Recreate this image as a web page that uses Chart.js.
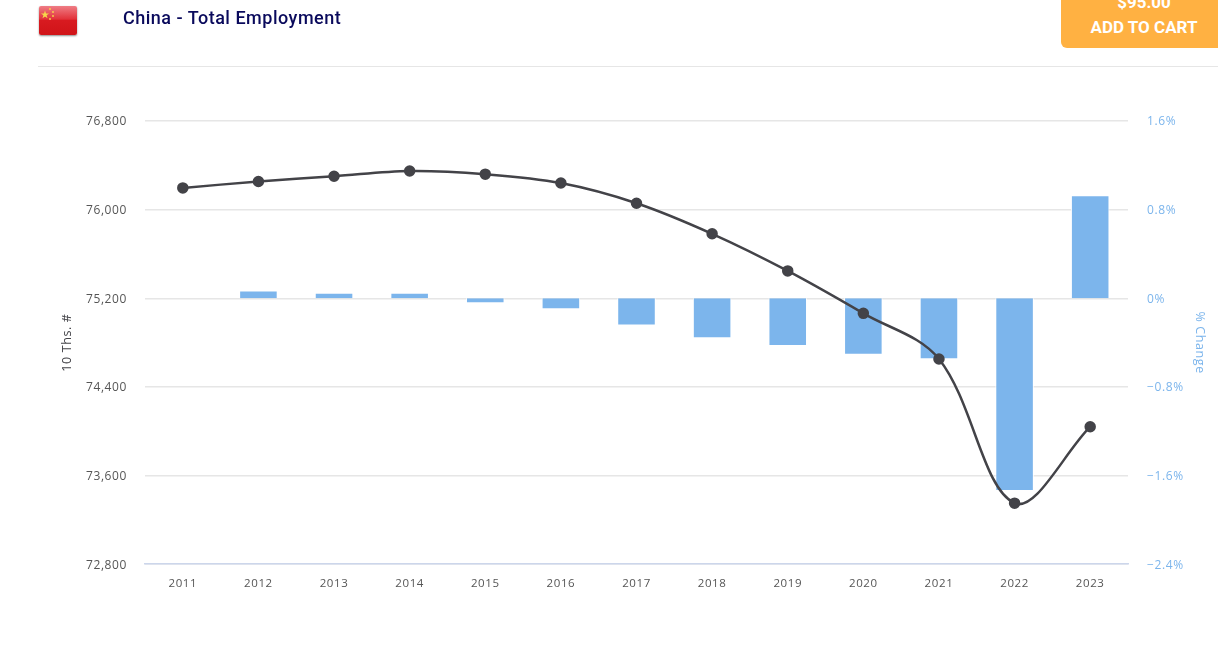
<!DOCTYPE html>
<html><head><meta charset="utf-8">
<script src="https://cdn.jsdelivr.net/npm/chart.js@4"></script>
<style>
html,body{margin:0;padding:0;background:#fff;width:1218px;height:647px;overflow:hidden}
#chart{position:absolute;left:0;top:0}
#title{position:absolute;left:123px;top:6px;font:500 18px/24px Roboto,sans-serif;letter-spacing:.5px;color:#0a0a5c}
#rule{position:absolute;left:38px;right:0;top:66px;height:1px;background:#e6e6e6}
#flag{position:absolute;left:39px;top:6px;width:38px;height:29px;border-radius:2px;box-shadow:0 1px 2px rgba(0,0,0,.45)}
#cart{position:absolute;left:1061px;top:-13px;width:157px;height:61px;background:#ffb142;border-bottom-left-radius:6px;color:#fff;font:700 17px/25px Roboto,sans-serif;text-align:center;padding:3px 0 0 9px;box-sizing:border-box}
</style></head><body>
<canvas id="chart" width="1218" height="647"></canvas>
<svg id="flag" viewBox="0 0 38 29">
<defs><linearGradient id="g" x1="0" y1="0" x2="0" y2="1"><stop offset="0" stop-color="#ef7d85"/><stop offset=".45" stop-color="#e2323a"/><stop offset=".5" stop-color="#d81a20"/><stop offset="1" stop-color="#d01418"/></linearGradient></defs>
<rect width="38" height="29" fill="url(#g)"/>
<polygon points="6,4.5 7,7.5 10,7.5 7.6,9.3 8.5,12.2 6,10.4 3.5,12.2 4.4,9.3 2,7.5 5,7.5" fill="#f6d84a"/>
<circle cx="11" cy="3" r=".9" fill="#f6d84a"/><circle cx="14" cy="6" r=".9" fill="#f6d84a"/><circle cx="14" cy="10" r=".9" fill="#f6d84a"/><circle cx="11" cy="13" r=".9" fill="#f6d84a"/>
</svg>
<div id="title">China - Total Employment</div>
<div id="rule"></div>
<div id="cart">$95.00<br>ADD TO CART</div>
<script>
const categories = ['2011','2012','2013','2014','2015','2016','2017','2018','2019','2020','2021','2022','2023'];
const employment = [76196,76254,76301,76349,76320,76240,76058,75782,75447,75064,74652,73351,74041];
const pctChange = [0,0.07,0.05,0.05,-0.045,-0.1,-0.245,-0.36,-0.43,-0.51,-0.55,-1.74,0.93];
const leftTitle = '10 Ths. #';
const rightTitle = '% Change';

const tickFont = {family:'"Open Sans"',size:12};
const spacing = {id:'spacing',beforeDraw(c){c.ctx.letterSpacing='0.6px';}};
new Chart(document.getElementById('chart'),{
  data:{labels:categories,datasets:[
    {type:'line',data:employment,yAxisID:'y',order:0,borderColor:'#434348',backgroundColor:'#434348',borderWidth:2.5,pointRadius:4.5,pointHoverRadius:4.5,tension:0.35,fill:false},
    {type:'bar',data:pctChange,yAxisID:'y1',order:1,backgroundColor:'#7cb5ec',borderColor:'#ffffff',borderWidth:1,barPercentage:0.51,categoryPercentage:1}
  ]},
  plugins:[spacing],
  options:{
    responsive:false,animation:false,
    layout:{padding:{left:60,right:11,top:121,bottom:43}},
    plugins:{legend:{display:false},tooltip:{enabled:false},title:{display:false}},
    scales:{
      x:{grid:{drawOnChartArea:false,drawTicks:false},border:{color:'#ccd6eb',width:1.5},
         ticks:{color:'#555',font:{...tickFont,size:11.5},padding:13,maxRotation:0,autoSkip:false}},
      y:{position:'left',min:72800,max:76800,grid:{color:'#e6e6e6',lineWidth:1.5,drawTicks:false},border:{display:false},
         afterFit(s){s.width=85;},
         title:{display:true,text:leftTitle,color:'#434348',font:{...tickFont,size:12.5},padding:0},
         ticks:{stepSize:800,color:'#555',font:tickFont,padding:18,labelOffset:1,callback:v=>v.toLocaleString('en-US')}},
      y1:{position:'right',min:-2.4,max:1.6,grid:{display:false,drawTicks:false},border:{display:false},
         afterFit(s){s.width=79;},
         title:{display:true,text:rightTitle,color:'#7cb5ec',font:{...tickFont,size:12.5},padding:0},
         ticks:{stepSize:0.8,color:'#7cb5ec',font:tickFont,padding:19,labelOffset:1,callback:v=>{const r=Math.round(v*10)/10;return r===0?'0%':(r<0?'\u2212':'')+Math.abs(r).toFixed(1)+'%';}}}
    }
  }
});
</script>
</body></html>
